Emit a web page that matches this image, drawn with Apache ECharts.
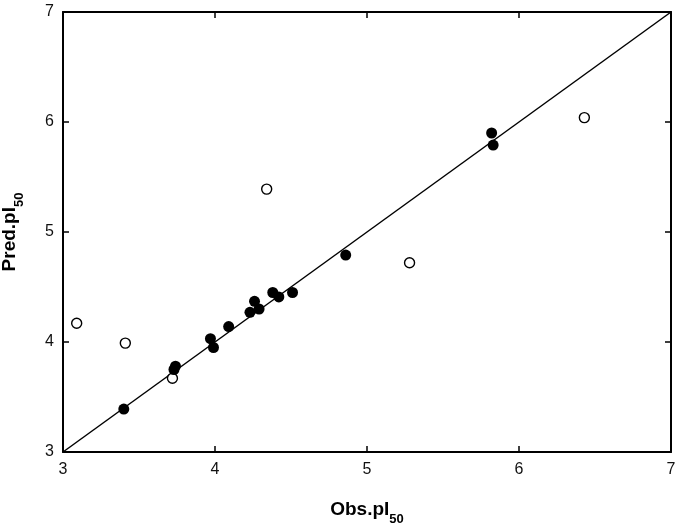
<!DOCTYPE html>
<html>
<head>
<meta charset="utf-8">
<script src="https://cdn.jsdelivr.net/npm/echarts@6/dist/echarts.min.js"></script>
<style>
  html, body { margin: 0; padding: 0; background: #fff; }
  #chart { width: 680px; height: 529px; }
</style>
</head>
<body>
<div id="chart"></div>
<script>
  // filled points: [obs, pred]
  var filledObs  = [3.40, 3.73, 3.74, 3.97, 3.99, 4.09, 4.23, 4.26, 4.29, 4.38, 4.42, 4.51, 4.86, 5.82, 5.83];
  var filledPred = [3.39, 3.75, 3.78, 4.03, 3.95, 4.14, 4.27, 4.37, 4.30, 4.45, 4.41, 4.45, 4.79, 5.90, 5.79];
  // open points
  var openObs  = [3.09, 3.41, 3.72, 4.34, 5.28, 6.43];
  var openPred = [4.17, 3.99, 3.67, 5.39, 4.72, 6.04];
  var lineEnds = [3, 7];
  var tickLabels = [3, 4, 5, 6, 7];

  var chart = echarts.init(document.getElementById('chart'))
  var fontFam = 'Liberation Sans, Arial, sans-serif'

  function pairs(xs, ys) {
    return xs.map(function (x, i) { return [x, ys[i]] })
  }

  var axisBase = {
    type: 'value', min: 3, max: 7, interval: 1,
    axisLine: { show: true, lineStyle: { color: '#000', width: 2 } },
    axisTick: { show: true, inside: true, length: 6, lineStyle: { color: '#000', width: 1.5 } },
    splitLine: { show: false }
  }

  var nameRich = {
    a: { fontFamily: fontFam, fontWeight: 'bold', fontSize: 19, color: '#000' },
    b: { fontFamily: fontFam, fontWeight: 'bold', fontSize: 13, color: '#000', verticalAlign: 'bottom', padding: [0, 0, -7, 0] }
  }

  var labelStyle = {
    color: '#111', fontSize: 16, fontFamily: fontFam,
    formatter: function (v) { return tickLabels.indexOf(v) >= 0 ? String(v) : '' }
  }

  var option = {
    backgroundColor: '#fff',
    animation: false,
    grid: { left: 63, right: 9, top: 12, bottom: 77, containLabel: false, outerBoundsMode: 'none' },
    xAxis: [
      Object.assign({}, axisBase, {
        position: 'bottom',
        name: '{a|Obs.pI}{b|50}',
        nameLocation: 'middle',
        nameGap: 48,
        nameTextStyle: { rich: nameRich },
        axisLabel: Object.assign({ margin: 10 }, labelStyle)
      }),
      Object.assign({}, axisBase, { position: 'top', axisLabel: { show: false } })
    ],
    yAxis: [
      Object.assign({}, axisBase, {
        position: 'left',
        name: '{a|Pred.pI}{b|50}',
        nameLocation: 'middle',
        nameGap: 44,
        nameRotate: 90,
        nameTextStyle: { rich: nameRich },
        axisLabel: Object.assign({ margin: 9 }, labelStyle)
      }),
      Object.assign({}, axisBase, { position: 'right', axisLabel: { show: false } })
    ],
    series: [
      {
        type: 'line',
        data: pairs(lineEnds, lineEnds),
        showSymbol: false,
        lineStyle: { color: '#000', width: 1.5 },
        z: 1
      },
      {
        type: 'scatter',
        data: pairs(filledObs, filledPred),
        symbol: 'circle',
        symbolSize: 11,
        itemStyle: { color: '#000', opacity: 1 },
        z: 3
      },
      {
        type: 'scatter',
        data: pairs(openObs, openPred),
        symbol: 'circle',
        symbolSize: 10,
        itemStyle: { color: '#fff', borderColor: '#000', borderWidth: 1.4, opacity: 1 },
        z: 2
      }
    ]
  }
  chart.setOption(option)
</script>
</body>
</html>
